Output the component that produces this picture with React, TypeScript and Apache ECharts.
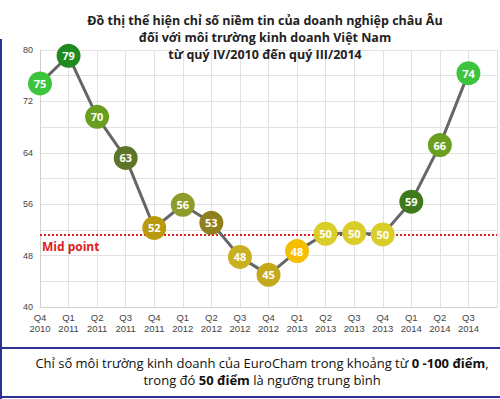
import React, { useEffect, useRef } from "react";
import * as echarts from "echarts";

const quarters = ["Q4\n2010", "Q1\n2011", "Q2\n2011", "Q3\n2011", "Q4\n2011", "Q1\n2012", "Q2\n2012", "Q3\n2012", "Q4\n2012", "Q1\n2013", "Q2\n2013", "Q3\n2013", "Q4\n2013", "Q1\n2014", "Q2\n2014", "Q3\n2014"];
const indexLabels = [75, 79, 70, 63, 52, 56, 53, 48, 45, 48, 50, 50, 50, 59, 66, 74];
const plottedValues = [74.8, 79.1, 69.6, 63.2, 52.3, 55.9, 53.1, 47.8, 45, 48.7, 51.4, 51.5, 51.3, 56.4, 65.2, 76.4];
const pointColors = ["#3cc43c", "#1f8a1f", "#6a9e1e", "#5d7529", "#b89a0c", "#8e9c2a", "#8f7f1e", "#c9b021", "#c4a91c", "#f5bf00", "#d9cd2a", "#d9cd2a", "#d9cd2a", "#3e7a1c", "#6a9e1e", "#3cc43c"];
const midPoint = 51.2;
const yTicks = [40, 48, 56, 64, 72, 80];

const App: React.FC = () => {
  const ref = useRef<HTMLDivElement>(null);
  useEffect(() => {
    if (!ref.current) return;
    const chart = echarts.init(ref.current, null, { renderer: "svg" });
    const navy = "#2e3192";
    chart.setOption({
      animation: false,
      backgroundColor: "#fff",
      grid: { left: 40, right: 2, top: 50, bottom: 92 },
      xAxis: {
        type: "category",
        boundaryGap: false,
        data: [...quarters, ""],
        axisLine: { lineStyle: { color: "#d0d0d0", width: 1 } },
        axisTick: { show: false },
        axisLabel: { color: "#444", fontSize: 9.5, fontFamily: "Liberation Sans", lineHeight: 11, margin: 5, interval: 0 },
        splitLine: { show: true, lineStyle: { color: "#e2e2e2", width: 1 } },
      },
      yAxis: {
        type: "value",
        min: 40,
        max: 80,
        interval: 4,
        axisLine: { show: true, lineStyle: { color: "#d0d0d0", width: 1 } },
        axisTick: { show: false },
        axisLabel: {
          color: "#444",
          fontSize: 9,
          fontFamily: "Liberation Sans",
          margin: 7,
          formatter: (v: number) => (yTicks.includes(v) ? String(v) : ""),
        },
        splitLine: { lineStyle: { color: "#e2e2e2", width: 1 } },
      },
      series: [
        {
          type: "line",
          z: 1,
          data: [],
          markLine: {
            silent: true,
            symbol: "none",
            data: [{ yAxis: midPoint }],
            lineStyle: { color: "#e02020", type: [2, 2], width: 2 },
            label: {
              show: true,
              position: "insideStartBottom",
              formatter: "Mid point",
              color: "#e02020",
              fontWeight: "bold",
              fontSize: 12,
              fontFamily: "Open Sans",
              distance: [2, 5],
            },
          },
        },
        {
          type: "line",
          z: 5,
          data: plottedValues.map((v, i) => ({
            value: v,
            itemStyle: { color: pointColors[i] },
            label: { formatter: String(indexLabels[i]) },
          })),
          lineStyle: { color: "#666", width: 3 },
          symbol: "circle",
          symbolSize: 24,
          label: {
            show: true,
            position: "inside",
            color: "#fff",
            fontWeight: "bold",
            fontSize: 11,
            fontFamily: "Open Sans",
          },
        },
      ],
      graphic: [
        {
          type: "text",
          x: 265,
          y: 12,
          z: 20,
          style: {
            text: "Đồ thị thể hiện chỉ số niềm tin của doanh nghiệp châu Âu\nđối với môi trường kinh doanh Việt Nam\ntừ quý IV/2010 đến quý III/2014",
            align: "center",
            verticalAlign: "top",
            fontSize: 12.5,
            lineHeight: 17,
            fontWeight: "bold",
            fontFamily: "Open Sans",
            fill: "#222",
          },
        },
        {
          type: "line",
          z: 20,
          shape: { x1: 1, y1: 39, x2: 1, y2: 399 },
          style: { stroke: navy, lineWidth: 2 },
        },
        {
          type: "line",
          z: 20,
          shape: { x1: 0, y1: 348, x2: 500, y2: 348 },
          style: { stroke: navy, lineWidth: 2 },
        },
        {
          type: "line",
          z: 20,
          shape: { x1: 0, y1: 397, x2: 500, y2: 397 },
          style: { stroke: navy, lineWidth: 2 },
        },
        {
          type: "text",
          x: 262,
          y: 354,
          z: 20,
          style: {
            text: "Chỉ số môi trường kinh doanh của EuroCham trong khoảng từ {b|0 -100 điểm},\ntrong đó {b|50 điểm} là ngưỡng trung bình",
            align: "center",
            verticalAlign: "top",
            fontSize: 13,
            lineHeight: 17,
            fontFamily: "Open Sans",
            fill: "#111",
            rich: {
              b: { fontWeight: "bold", fontSize: 13, fontFamily: "Open Sans", fill: "#111", lineHeight: 17 },
            },
          },
        },
      ],
    });
    return () => chart.dispose();
  }, []);
  return <div ref={ref} style={{ position: "fixed", left: 0, top: 0, width: 500, height: 399 }} />;
};

export default App;
